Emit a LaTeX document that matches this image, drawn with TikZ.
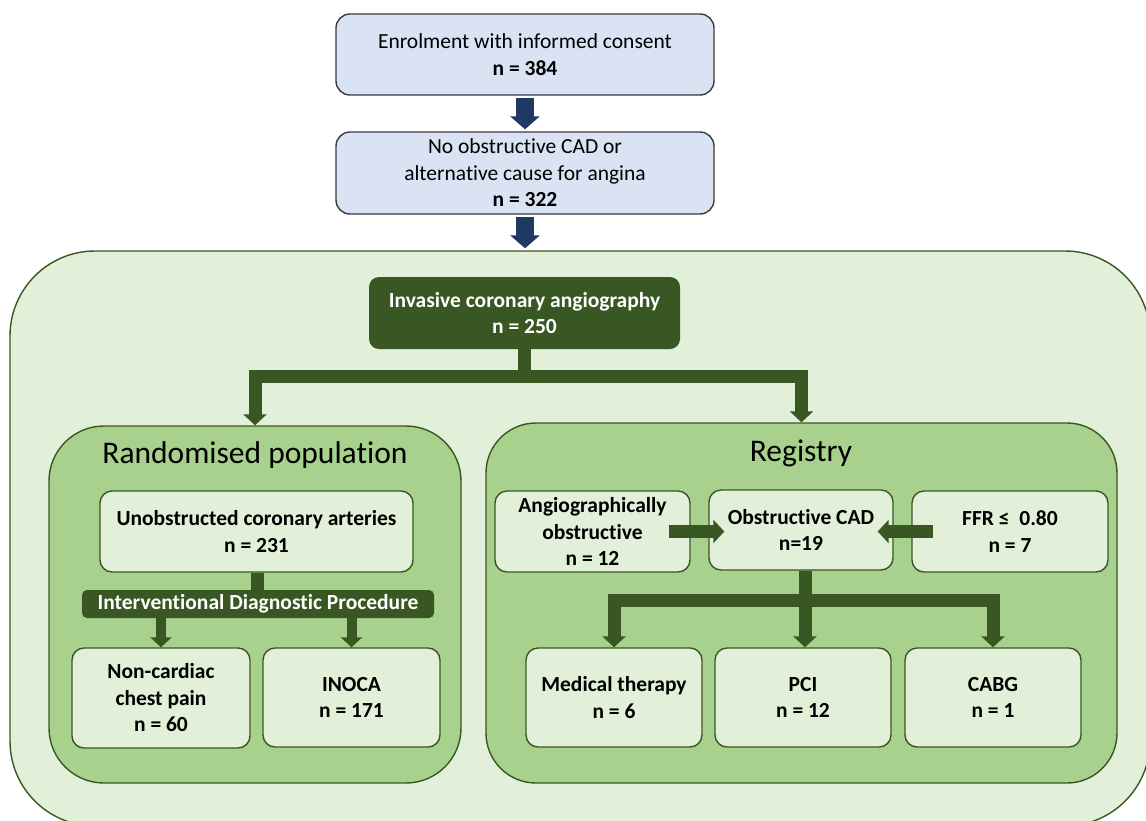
\documentclass[tikz,border=0pt]{standalone}
\usepackage{fontspec}
\setmainfont{Carlito}[Ligatures=NoCommon, RawFeature={-liga;-clig;-calt}]
\usetikzlibrary{arrows.meta}

\definecolor{boxblue}{HTML}{DAE3F3}
\definecolor{navy}{HTML}{203864}
\definecolor{palegreen}{HTML}{E2F0D9}
\definecolor{midgreen}{HTML}{A9D18E}
\definecolor{darkgreen}{HTML}{385723}
\definecolor{edgegray}{HTML}{3A3A3A}

\tikzset{
  txt/.style={font=\fontsize{21.5}{26.5}\selectfont, align=center, inner sep=1pt},
  topbox/.style={txt, draw=edgegray, line width=1.4pt, fill=boxblue,
    rounded corners=14pt, minimum width=378pt, minimum height=81pt},
  group/.style={draw=darkgreen, line width=1.4pt, fill=midgreen},
  smallbox/.style={txt, font=\fontsize{21.5}{26.5}\selectfont\bfseries, draw=darkgreen,
    line width=1.4pt, fill=palegreen, rounded corners=12pt},
  darkbox/.style={txt, font=\fontsize{21.5}{26.5}\selectfont\bfseries, text=white,
    fill=darkgreen},
  title/.style={font=\fontsize{31.5}{36}\selectfont, inner sep=0pt},
  navyarrow/.style={navy, line width=18pt, -{Triangle[width=29pt,length=13pt]},
    shorten <=2pt, shorten >=2pt},
  grnarrow/.style={darkgreen, line width=13pt, -{Triangle[width=23pt,length=11pt]}},
  thinarrow/.style={darkgreen, line width=10pt, -{Triangle[width=21pt,length=10pt]}},
  grnline/.style={darkgreen, line width=13pt}
}

\begin{document}
\begin{tikzpicture}[x=1pt,y=-1pt]
\useasboundingbox (0,0) rectangle (1146,820);
\clip (0,0) rectangle (1146,820);

% Top boxes
\node[topbox] (enrol) at (525,54.5) {Enrolment with informed consent\\\textbf{n = 384}};
\node[topbox, minimum height=82pt] (nocad) at (525,173)
  {No obstructive CAD or\\alternative cause for angina\\\textbf{n = 322}};

% Outer frame and groups
\node[group, fill=palegreen, rounded corners=85pt, minimum width=1140pt,
  minimum height=575pt] (outer) at (580,538.5) {};
\node[group, rounded corners=55pt, minimum width=412pt, minimum height=357pt]
  (rand) at (255,604.5) {};
\node[group, rounded corners=50pt, minimum width=631pt, minimum height=360pt]
  (reg) at (801.5,603) {};
\node[title] (randtitle) at (255,455) {Randomised population};
\node[title] (regtitle) at (801,453) {Registry};

% Angiography
\node[darkbox, rounded corners=10pt, minimum width=311pt, minimum height=72pt]
  (ica) at (524.5,313) {Invasive coronary angiography\\n = 250};

% Randomised population
\node[smallbox, minimum width=313pt, minimum height=81pt] (unob) at (256.5,531.5)
  {Unobstructed coronary arteries\\n = 231};
\node[darkbox, rounded corners=5pt, minimum width=352pt, minimum height=28pt]
  (idp) at (258,604) {Interventional Diagnostic Procedure};
\node[smallbox, minimum width=178pt, minimum height=100pt] (noncard) at (161,698)
  {Non-cardiac\\chest pain\\n = 60};
\node[smallbox, minimum width=177pt, minimum height=99pt] (inoca) at (351.5,697.5)
  {INOCA\\n = 171};

% Registry
\node[smallbox, minimum width=195pt, minimum height=81pt] (angio) at (592.5,531.5)
  {Angiographically\\obstructive\\n = 12};
\node[smallbox, minimum width=184pt, minimum height=80pt] (obs) at (801,530)
  {Obstructive CAD\\n=19};
\node[smallbox, minimum width=196pt, minimum height=81pt] (ffr) at (1010,531.5)
  {FFR ≤~ 0.80\\n = 7};
\node[smallbox, minimum width=176pt, minimum height=99pt] (med) at (614,697.5)
  {Medical therapy\\n = 6};
\node[smallbox, minimum width=176pt, minimum height=99pt] (pci) at (803,697.5)
  {PCI\\n = 12};
\node[smallbox, minimum width=176pt, minimum height=99pt] (cabg) at (993,697.5)
  {CABG\\n = 1};

% Arrows
\draw[navyarrow] (enrol.south) -- (nocad.north);
\draw[navyarrow] (nocad.south) -- (nocad.south |- outer.north);

\coordinate (split) at ([yshift=-27pt]ica.south);
\draw[grnarrow] (ica.south) -- (split) -| (rand.north);
\draw[grnarrow] (split) -| (reg.north);

\draw[grnline] ([xshift=1pt]unob.south) -- ([xshift=-0.5pt]idp.north);
\draw[thinarrow] (idp.south -| noncard.north) -- (noncard.north);
\draw[thinarrow] (idp.south -| inoca.north) -- (inoca.north);

\draw[grnarrow] ([xshift=-22pt]angio.east) -- ([xshift=16pt,yshift=-1.5pt]obs.west);
\draw[grnarrow] ([xshift=22pt]ffr.west) -- ([xshift=-16pt,yshift=-1.5pt]obs.east);

\coordinate (fork) at ([xshift=4pt,yshift=-30pt]obs.south);
\draw[grnarrow] ([xshift=4pt]obs.south) -- (fork) -| (med.north);
\draw[grnarrow] (fork) -| (cabg.north);
\draw[grnarrow] (fork) -- (fork |- pci.north);
\end{tikzpicture}
\end{document}
